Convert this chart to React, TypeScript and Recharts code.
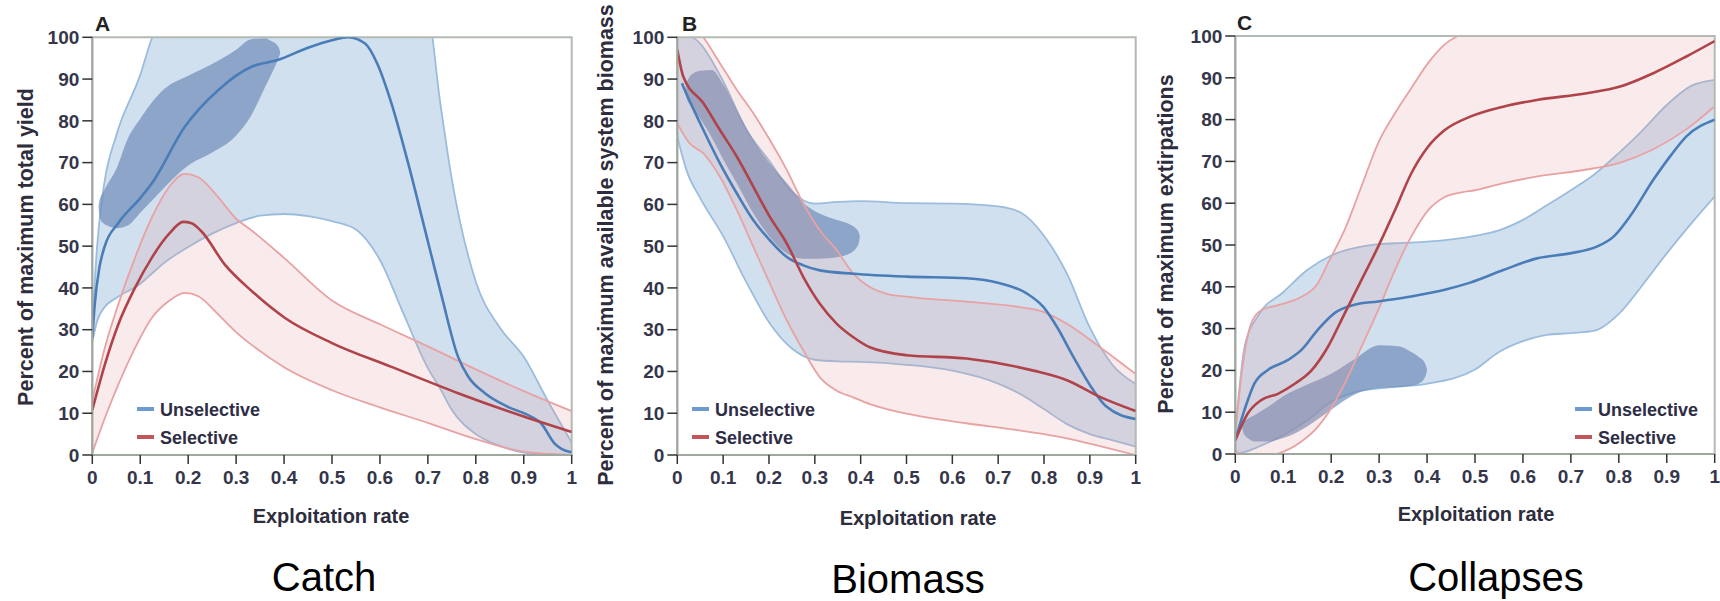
import React from 'react';
import { ComposedChart, Area, Line, XAxis, YAxis, ReferenceArea } from 'recharts';

const FONT = "'Liberation Sans', Arial, Helvetica, sans-serif";

// ---------- axis ticks ----------
const X_TICKS = [0, 0.1, 0.2, 0.3, 0.4, 0.5, 0.6, 0.7, 0.8, 0.9, 1];
const X_TICK_LABELS = ['0', '0.1', '0.2', '0.3', '0.4', '0.5', '0.6', '0.7', '0.8', '0.9', '1'];
const Y_TICKS = [0, 10, 20, 30, 40, 50, 60, 70, 80, 90, 100];

// ---------- Panel A: Catch ----------
const A_UNSEL_BAND_X = [0, 0.01, 0.025, 0.05, 0.1, 0.125, 0.15, 0.2, 0.25, 0.3, 0.35, 0.4, 0.45, 0.5, 0.55, 0.6, 0.65, 0.7, 0.725, 0.75, 0.8, 0.85, 0.9, 0.95, 1];
const A_UNSEL_BAND_LO = [27, 32, 35.3, 37.6, 41, 43.5, 46, 49.8, 53, 55.5, 57.3, 57.7, 57.2, 56, 54, 46.7, 33.6, 20.8, 16, 10.8, 5, 2.2, 0.6, 0.2, 0];
const A_UNSEL_BAND_HI = [31, 50, 65, 76.5, 91, 100, 106, 114, 119, 122, 124, 125, 125, 124, 121, 117, 111, 106, 85, 66, 41.5, 30.5, 23.5, 13, 3];
const A_UNSEL_X = [0, 0.005, 0.015, 0.026, 0.054, 0.1, 0.124, 0.193, 0.263, 0.333, 0.388, 0.45, 0.5, 0.534, 0.569, 0.594, 0.624, 0.659, 0.694, 0.729, 0.763, 0.784, 0.819, 0.866, 0.915, 0.936, 0.964, 0.995, 1];
const A_UNSEL_Y = [28, 36, 45, 50, 55.5, 61.5, 65, 78.6, 87.4, 93, 94.6, 97.5, 99.3, 100, 98.5, 93.8, 84.2, 69.8, 53.9, 37.9, 23.5, 18.8, 14.8, 11.6, 9.2, 7.6, 2.8, 0.8, 0.7];
const A_SEL_BAND_X = [0, 0.026, 0.054, 0.089, 0.124, 0.159, 0.193, 0.221, 0.263, 0.298, 0.333, 0.4, 0.5, 0.6, 0.7, 0.8, 0.9, 1];
const A_SEL_BAND_LO = [0.5, 8.8, 16.8, 25.6, 32.8, 36.8, 38.8, 38, 33.6, 29.6, 26.3, 21, 15.5, 11.4, 7.7, 3.8, 0.8, 0];
const A_SEL_BAND_HI = [13, 25.6, 36, 47.2, 56.8, 64, 67.3, 66.5, 61.7, 56.8, 53.7, 47.2, 37, 31.3, 26, 20.5, 15.3, 10.5];
const A_SEL_X = [0, 0.026, 0.054, 0.089, 0.124, 0.159, 0.19, 0.207, 0.228, 0.277, 0.333, 0.402, 0.5, 0.624, 0.763, 0.9, 1];
const A_SEL_Y = [10.8, 21.6, 31.2, 40, 47.2, 52.8, 55.8, 55.5, 53.5, 45.5, 39.2, 32.8, 26.8, 21.1, 14.8, 9.2, 5.5];
const A_BLOB_X = [0.013, 0.015, 0.018, 0.023, 0.03, 0.05, 0.075, 0.1, 0.125, 0.15, 0.2, 0.25, 0.3, 0.33, 0.36, 0.375, 0.385, 0.39, 0.392];
const A_BLOB_LO = [59.3, 57.3, 56.2, 55.5, 55, 54.3, 55, 58, 61, 64, 69.3, 72.4, 76.5, 81, 88, 91.5, 94, 95.5, 96.3];
const A_BLOB_HI = [59.7, 61, 62, 63, 64.5, 68.5, 76, 80.5, 84.5, 87.6, 90.8, 93.6, 97, 99.5, 99.8, 99, 98.2, 97.2, 96.5];

// ---------- Panel B: Biomass ----------
const B_UNSEL_BAND_X = [0, 0.02, 0.05, 0.1, 0.15, 0.2, 0.25, 0.3, 0.35, 0.4, 0.5, 0.6, 0.7, 0.75, 0.8, 0.85, 0.9, 0.95, 1];
const B_UNSEL_BAND_LO = [76.2, 68.2, 61.5, 52.4, 41.5, 31.8, 25.5, 22.8, 22.4, 22.3, 21.6, 20.2, 17.1, 14.5, 11, 7.4, 5, 3.5, 2];
const B_UNSEL_BAND_HI = [102, 101, 98.5, 89.5, 78, 70.5, 63, 60.2, 60.6, 60.8, 60.3, 60.2, 59.5, 58, 52.5, 43.4, 30.5, 21.5, 17];
const B_UNSEL_X = [0.01, 0.013, 0.057, 0.093, 0.13, 0.166, 0.202, 0.239, 0.275, 0.311, 0.384, 0.5, 0.631, 0.704, 0.762, 0.798, 0.828, 0.864, 0.907, 0.936, 1];
const B_UNSEL_Y = [89, 88.2, 77.8, 69.8, 62.6, 56.2, 51.4, 47.4, 45.4, 44.2, 43.4, 42.7, 42.3, 41.1, 38.7, 35.5, 30.7, 23.5, 15.6, 11.6, 8.6];
const B_SEL_BAND_X = [0, 0.027, 0.057, 0.093, 0.13, 0.166, 0.202, 0.239, 0.275, 0.311, 0.348, 0.384, 0.42, 0.457, 0.5, 0.63, 0.74, 0.8, 0.85, 0.92, 1];
const B_SEL_BAND_LO = [79.4, 74.6, 72.2, 66.6, 58.6, 49.8, 41, 32.2, 25, 18.6, 15.4, 13.8, 12.2, 11, 9.9, 7.6, 6, 5, 4, 2.2, 0];
const B_SEL_BAND_HI = [108, 104, 100, 93.8, 87.4, 81.8, 75.4, 68.2, 60.2, 53.8, 49, 43.4, 40.2, 38.6, 37.9, 36.7, 35.5, 34.2, 31.4, 26, 19.4];
const B_SEL_X = [0, 0.013, 0.057, 0.093, 0.13, 0.166, 0.202, 0.239, 0.275, 0.311, 0.348, 0.384, 0.42, 0.5, 0.631, 0.777, 0.85, 0.922, 1];
const B_SEL_Y = [97, 90.6, 84.2, 77.8, 71.4, 64.2, 57, 50.6, 42.6, 36.2, 31.4, 28.2, 25.8, 23.9, 23.1, 20.2, 17.9, 13.9, 10.5];
const B_BLOB_X = [0.018, 0.02, 0.024, 0.03, 0.05, 0.075, 0.1, 0.13, 0.166, 0.2, 0.24, 0.275, 0.31, 0.35, 0.38, 0.39, 0.396, 0.398];
const B_BLOB_LO = [87, 85.5, 84.5, 83.5, 80.5, 76, 70.8, 65, 57.8, 52.4, 48.2, 47, 47, 47.4, 48.5, 49.5, 50.8, 52];
const B_BLOB_HI = [87.5, 89, 90, 91, 92, 92.2, 88.8, 82.6, 75.4, 70, 65, 60.4, 57.8, 56.2, 55, 54.2, 53.2, 52.4];

// ---------- Panel C: Collapses ----------
const C_UNSEL_BAND_X = [0, 0.02, 0.05, 0.1, 0.15, 0.2, 0.25, 0.3, 0.35, 0.4, 0.5, 0.55, 0.6, 0.65, 0.7, 0.75, 0.8, 0.85, 0.9, 0.95, 1];
const C_UNSEL_BAND_LO = [0, 0.5, 1.8, 4.5, 8, 12.5, 14.8, 15.7, 16.2, 16.8, 20.2, 24.4, 27, 28.5, 28.9, 29.5, 33.5, 40.5, 48, 55, 61.6];
const C_UNSEL_BAND_HI = [5, 26, 33.5, 38.7, 44, 47.5, 49.3, 50.2, 50.5, 50.8, 52.2, 53.5, 56, 59.5, 63.1, 67, 72, 77.5, 83.5, 88, 89.5];
const C_UNSEL_X = [0, 0.019, 0.04, 0.068, 0.11, 0.138, 0.172, 0.207, 0.249, 0.298, 0.367, 0.437, 0.49, 0.559, 0.629, 0.698, 0.754, 0.789, 0.823, 0.872, 0.907, 0.941, 1];
const C_UNSEL_Y = [3.3, 10.5, 16.9, 20.1, 22.5, 24.9, 29.7, 33.7, 35.7, 36.5, 37.7, 39.3, 41, 44, 46.8, 48, 49.6, 52, 56.8, 65.6, 71.2, 76, 80];
const C_SEL_BAND_X = [0, 0.016, 0.033, 0.054, 0.089, 0.138, 0.172, 0.193, 0.228, 0.263, 0.298, 0.333, 0.367, 0.402, 0.437, 0.472, 0.5, 0.56, 0.63, 0.73, 0.8, 0.87, 0.94, 1];
const C_SEL_BAND_LO = [1, -0.5, -0.8, -0.6, 0.1, 3, 6.5, 9.7, 16.8, 25.6, 34.4, 44, 52, 58.3, 61.5, 62.6, 63.1, 64.8, 66.4, 68, 69.6, 72.8, 77.6, 83.2];
const C_SEL_BAND_HI = [5, 21.6, 31.2, 34.4, 35.6, 37.6, 40.8, 45.6, 53.6, 64, 74.4, 81.5, 87.5, 93.5, 98, 100.5, 102, 104, 106, 108, 109, 111, 113, 115];
const C_SEL_X = [0, 0.026, 0.054, 0.089, 0.124, 0.159, 0.193, 0.228, 0.263, 0.298, 0.333, 0.367, 0.402, 0.437, 0.49, 0.559, 0.629, 0.733, 0.803, 0.872, 0.941, 1];
const C_SEL_Y = [3.3, 9.7, 12.9, 14.4, 16.8, 20, 25.6, 33.6, 41.6, 49.6, 58.3, 67.1, 73.5, 77.5, 80.7, 83.1, 84.7, 86.3, 87.9, 91.1, 95.1, 98.8];
const C_BLOB_X = [0.015, 0.017, 0.021, 0.027, 0.04, 0.07, 0.1, 0.15, 0.2, 0.25, 0.3, 0.34, 0.37, 0.385, 0.394, 0.398, 0.4];
const C_BLOB_LO = [6, 5, 4.3, 3.7, 3, 3, 3.8, 6.6, 10.6, 14.3, 15.8, 16, 16.4, 17, 18, 19, 20];
const C_BLOB_HI = [6.4, 7.3, 7.9, 8.5, 9.3, 11.4, 13.8, 16.6, 19.2, 22.8, 26, 25.8, 24.2, 23, 22, 21, 20.3];

// ---------- text ----------
const PANEL_LETTERS = ['A', 'B', 'C'];
const Y_TITLES = ['Percent of maximum total yield', 'Percent of maximum available system biomass', 'Percent of maximum extirpations'];
const X_TITLE = 'Exploitation rate';
const CAPTIONS = ['Catch', 'Biomass', 'Collapses'];
const LEGEND_LABELS = ['Unselective', 'Selective'];

// ---------- colors ----------
const BLUE_LINE = '#4a7db8';
const RED_LINE = '#b0434a';
const BLUE_FILL = '#7aa7d1';
const BLUE_EDGE = '#9cbcdd';
const RED_FILL = '#e39a9a';
const RED_EDGE = '#e8a2a4';
const BLOB_FILL = '#6f8bb8';

const band = (xs: number[], lo: number[], hi: number[]) => xs.map((x, i) => ({ x, r: [lo[i], hi[i]] }));
const line = (xs: number[], ys: number[]) => xs.map((x, i) => ({ x, y: ys[i] }));

type PanelProps = {
  left: number; right: number; top: number; bottom: number;
  unselBand: any[]; selBand: any[]; blob: any[]; unselLine: any[]; selLine: any[];
};

const tickStyle = { fill: '#35364a', fontSize: 19, fontWeight: 700, fontFamily: FONT };

function Panel({ left, right, top, bottom, unselBand, selBand, blob, unselLine, selLine }: PanelProps) {
  return (
    <div style={{ position: 'absolute', left: 0, top: 0, width: 1720, height: 601 }}>
      <ComposedChart
        width={1720}
        height={601}
        margin={{ top, right: 1720 - right, bottom: 601 - bottom - 30, left: left - 60 }}
      >
        <XAxis
          type="number"
          dataKey="x"
          domain={[0, 1]}
          ticks={X_TICKS}
          interval={0}
          tickFormatter={(_v: number, i: number) => X_TICK_LABELS[i]}
          tick={tickStyle}
          tickSize={9}
          tickMargin={7}
          height={30}
          axisLine={{ stroke: '#9fa79f', strokeWidth: 2 }}
          tickLine={{ stroke: '#333', strokeWidth: 1.5 }}
          allowDataOverflow
        />
        <YAxis
          type="number"
          domain={[0, 100]}
          ticks={Y_TICKS}
          interval={0}
          width={60}
          tick={tickStyle}
          tickSize={10}
          tickMargin={3}
          axisLine={{ stroke: '#9fa79f', strokeWidth: 2 }}
          tickLine={{ stroke: '#333', strokeWidth: 1.5 }}
          allowDataOverflow
        />
        <Area data={unselBand} dataKey="r" type="monotone" fill={BLUE_FILL} fillOpacity={0.35}
          stroke={BLUE_EDGE} strokeWidth={1.8} isAnimationActive={false} dot={false} activeDot={false} />
        <Area data={blob} dataKey="r" type="monotone" fill={BLOB_FILL} fillOpacity={0.7}
          stroke="none" isAnimationActive={false} dot={false} activeDot={false} />
        <Area data={selBand} dataKey="r" type="monotone" fill={RED_FILL} fillOpacity={0.2}
          stroke={RED_EDGE} strokeWidth={1.8} isAnimationActive={false} dot={false} activeDot={false} />
        <Line data={unselLine} dataKey="y" type="monotone" stroke={BLUE_LINE} strokeWidth={2.6}
          dot={false} activeDot={false} isAnimationActive={false} />
        <Line data={selLine} dataKey="y" type="monotone" stroke={RED_LINE} strokeWidth={2.6}
          dot={false} activeDot={false} isAnimationActive={false} />
        <ReferenceArea x1={0} x2={1} y1={0} y2={100} fill="none" stroke="#b3bab3" strokeWidth={2} ifOverflow="visible" />
      </ComposedChart>
    </div>
  );
}

function Legend({ x, y }: { x: number; y: number }) {
  return (
    <g>
      <line x1={x} x2={x + 17} y1={y} y2={y} stroke="#6b9bd2" strokeWidth={4} />
      <text x={x + 23} y={y + 6.5} fontSize={18} fontWeight={700} fill="#2e2d45" fontFamily={FONT}>{LEGEND_LABELS[0]}</text>
      <line x1={x} x2={x + 17} y1={y + 28} y2={y + 28} stroke="#c2555b" strokeWidth={4} />
      <text x={x + 23} y={y + 34.5} fontSize={18} fontWeight={700} fill="#2e2d45" fontFamily={FONT}>{LEGEND_LABELS[1]}</text>
    </g>
  );
}

export default function App() {
  const letters = [{ x: 95, y: 31 }, { x: 682, y: 31 }, { x: 1237, y: 30 }];
  const ytitles = [{ x: 33, y: 247 }, { x: 613, y: 245 }, { x: 1173, y: 244 }];
  const xtitles = [{ x: 331, y: 523 }, { x: 918, y: 525 }, { x: 1476, y: 521 }];
  const captions = [{ x: 324, y: 591 }, { x: 908, y: 593 }, { x: 1496, y: 591 }];
  const legends = [{ x: 137, y: 409 }, { x: 692, y: 409 }, { x: 1575, y: 409 }];
  return (
    <div style={{ position: 'absolute', left: 0, top: 0, width: 1720, height: 601, background: '#fff', overflow: 'hidden' }}>
      <Panel left={92.3} right={571.7} top={37.3} bottom={455}
        unselBand={band(A_UNSEL_BAND_X, A_UNSEL_BAND_LO, A_UNSEL_BAND_HI)}
        selBand={band(A_SEL_BAND_X, A_SEL_BAND_LO, A_SEL_BAND_HI)}
        blob={band(A_BLOB_X, A_BLOB_LO, A_BLOB_HI)}
        unselLine={line(A_UNSEL_X, A_UNSEL_Y)}
        selLine={line(A_SEL_X, A_SEL_Y)} />
      <Panel left={677.3} right={1135.7} top={37.3} bottom={455}
        unselBand={band(B_UNSEL_BAND_X, B_UNSEL_BAND_LO, B_UNSEL_BAND_HI)}
        selBand={band(B_SEL_BAND_X, B_SEL_BAND_LO, B_SEL_BAND_HI)}
        blob={band(B_BLOB_X, B_BLOB_LO, B_BLOB_HI)}
        unselLine={line(B_UNSEL_X, B_UNSEL_Y)}
        selLine={line(B_SEL_X, B_SEL_Y)} />
      <Panel left={1235.3} right={1714.7} top={36} bottom={454}
        unselBand={band(C_UNSEL_BAND_X, C_UNSEL_BAND_LO, C_UNSEL_BAND_HI)}
        selBand={band(C_SEL_BAND_X, C_SEL_BAND_LO, C_SEL_BAND_HI)}
        blob={band(C_BLOB_X, C_BLOB_LO, C_BLOB_HI)}
        unselLine={line(C_UNSEL_X, C_UNSEL_Y)}
        selLine={line(C_SEL_X, C_SEL_Y)} />
      <svg width={1720} height={601} style={{ position: 'absolute', left: 0, top: 0, pointerEvents: 'none' }}>
        {letters.map((p, i) => (
          <text key={'l' + i} x={p.x} y={p.y} fontSize={21} fontWeight={700} fill="#222" fontFamily={FONT}>{PANEL_LETTERS[i]}</text>
        ))}
        {ytitles.map((p, i) => (
          <text key={'y' + i} x={p.x} y={p.y} transform={`rotate(-90 ${p.x} ${p.y})`} textAnchor="middle"
            fontSize={21.5} fontWeight={700} fill="#2e2d3d" fontFamily={FONT}>{Y_TITLES[i]}</text>
        ))}
        {xtitles.map((p, i) => (
          <text key={'x' + i} x={p.x} y={p.y} textAnchor="middle" fontSize={20} fontWeight={700} fill="#2e2d3d" fontFamily={FONT}>{X_TITLE}</text>
        ))}
        {captions.map((p, i) => (
          <text key={'c' + i} x={p.x} y={p.y} textAnchor="middle" fontSize={40} fill="#000" fontFamily={FONT}>{CAPTIONS[i]}</text>
        ))}
        {legends.map((p, i) => <Legend key={'g' + i} x={p.x} y={p.y} />)}
      </svg>
    </div>
  );
}
